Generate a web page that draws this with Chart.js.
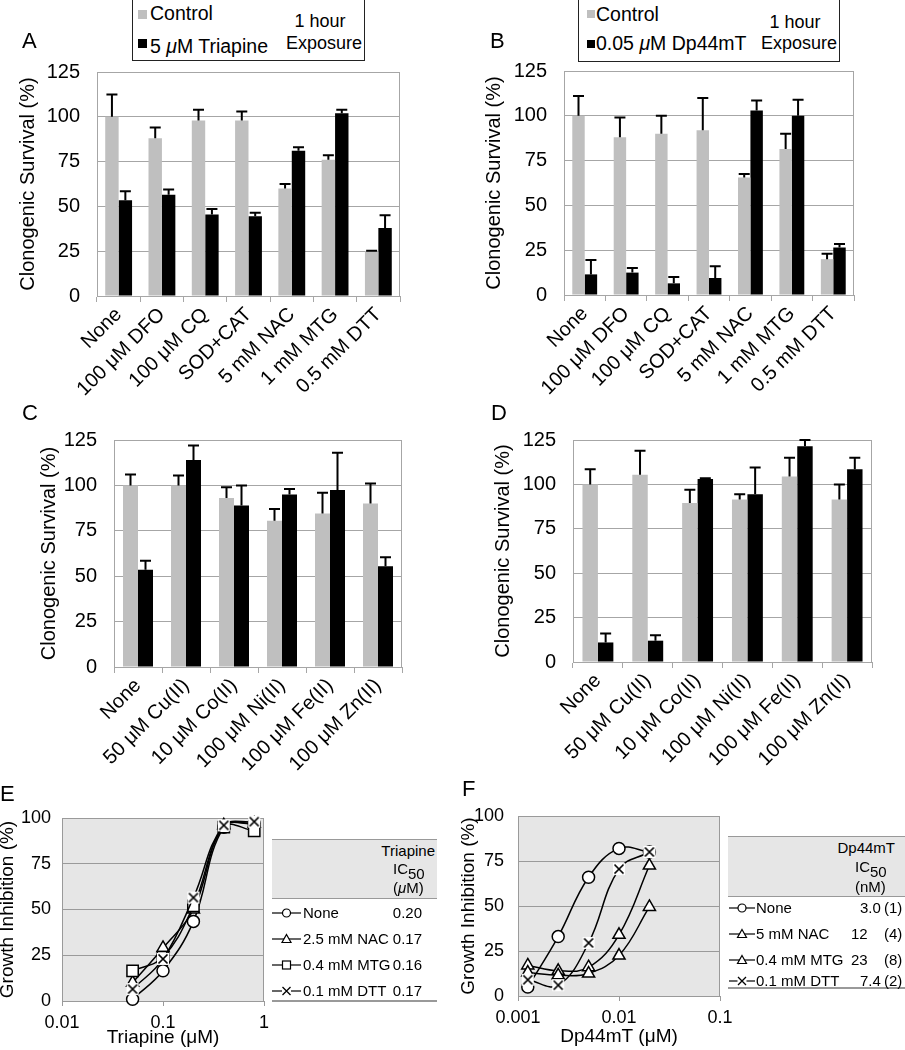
<!DOCTYPE html>
<html>
<head>
<meta charset="utf-8">
<script src="https://cdn.jsdelivr.net/npm/chart.js@4.4.1/dist/chart.umd.min.js"></script>
<style>
html,body{margin:0;padding:0;background:#fff;}
#fig{position:relative;width:905px;height:1050px;overflow:hidden;font-family:"Liberation Sans",Arial,Helvetica,sans-serif;color:#000;}
#fig canvas{position:absolute;}
.t{position:absolute;white-space:nowrap;line-height:1;}
.box{position:absolute;box-sizing:border-box;}
sub{font-size:1em;vertical-align:-5px;line-height:0;}
</style>
</head>
<body>
<div id="fig"></div>
<script>
// ---------------- DATA ----------------
const catsAB = ['None', '100 μM DFO', '100 μM CQ', 'SOD+CAT', '5 mM NAC', '1 mM MTG', '0.5 mM DTT'];
const catsCD = ['None', '50 μM Cu(II)', '10 μM Co(II)', '100 μM Ni(II)', '100 μM Fe(II)', '100 μM Zn(II)'];
const yTicksBar = [0, 25, 50, 75, 100, 125];

const A_control = [100, 88, 98, 98, 60, 76, 25];
const A_controlErr = [12.5, 6, 6, 5, 2.5, 2.5, 0.3];
const A_triapine = [53.5, 56.5, 45.5, 44.5, 81, 102, 38];
const A_triapineErr = [5, 3, 3, 2, 2, 2, 7];

const B_control = [100, 88, 90, 92, 65.5, 81.5, 20];
const B_controlErr = [11, 11, 10, 18, 2, 8.5, 3];
const B_dp44mt = [11.5, 12.5, 6.5, 9.5, 103, 100, 26.5];
const B_dp44mtErr = [8, 2.5, 3.5, 6.5, 5.5, 9, 2];

const C_control = [100, 100, 93, 80.5, 84.5, 90];
const C_controlErr = [6, 5.5, 6, 6.5, 11.5, 11];
const C_triapine = [53.5, 114, 89, 95, 97.5, 55.5];
const C_triapineErr = [5, 8, 11, 3, 20.5, 5];

const D_control = [100, 105.5, 89.5, 91.5, 104.5, 91.5];
const D_controlErr = [8.5, 13.5, 7.5, 3, 10.5, 8.5];
const D_dp44mt = [11, 12, 103, 94.5, 121.5, 108.5];
const D_dp44mtErr = [5, 3, 0.5, 15, 3.5, 6.5];

const E_conc = [0.05, 0.1, 0.2, 0.4, 0.8];
const E_none = [1, 16.5, 43.5, 95, 97];
const E_nac = [10, 29, 50, 96, 97];
const E_mtg = [16.5, 24, 52, 95, 93];
const E_dtt = [6.5, 23, 56.5, 96, 98];
const E_xTicks = [0.01, 0.1, 1];

const F_conc = [0.00125, 0.0025, 0.005, 0.01, 0.02];
const F_none = [5, 33, 66, 82, 80];
const F_nac = [17, 14, 16, 34, 72.5];
const F_mtg = [13, 11.5, 12.5, 22.5, 49.5];
const F_dtt = [9, 6, 29.5, 70.5, 80];
const F_xTicks = [0.001, 0.01, 0.1];
const yTicksGI = [0, 25, 50, 75, 100];

const E_tableNames = ['None', '2.5 mM NAC', '0.4 mM MTG', '0.1 mM DTT'];
const E_tableIC50 = ['0.20', '0.17', '0.16', '0.17'];
const F_tableNames = ['None', '5 mM NAC', '0.4 mM MTG', '0.1 mM DTT'];
const F_tableIC50 = ['3.0', '12', '23', '7.4'];
const F_tableN = ['(1)', '(4)', '(8)', '(2)'];
const markerKinds = ['circle', 'triangle', 'rect', 'x'];
const markerKindsF = ['circle', 'triangle', 'triangle', 'x'];

// ---------------- STYLE ----------------
const FONT = '"Liberation Sans", Arial, Helvetica, sans-serif';
Chart.defaults.font.family = FONT;
Chart.defaults.color = '#000';
const GRAY = '#bfbfbf';
const GRID = '#a6a6a6';
const GRID2 = '#9a9a9a';
const PLOTBG = '#e6e6e6';
const fig = document.getElementById('fig');

function mkCanvas(l, t, w, h) {
  const c = document.createElement('canvas');
  c.width = w; c.height = h;
  c.style.left = l + 'px'; c.style.top = t + 'px';
  c.style.width = w + 'px'; c.style.height = h + 'px';
  fig.appendChild(c);
  return c;
}

const errorBars = {
  id: 'errorBars',
  afterDatasetsDraw(chart) {
    const ctx = chart.ctx, ys = chart.scales.y;
    ctx.save();
    ctx.strokeStyle = '#000'; ctx.lineWidth = 2;
    chart.data.datasets.forEach((ds, i) => {
      const meta = chart.getDatasetMeta(i);
      meta.data.forEach((bar, j) => {
        const v = ds.data[j], e = ds.errors[j];
        const x = bar.x, yb = ys.getPixelForValue(v), yt = ys.getPixelForValue(v + e);
        ctx.beginPath();
        ctx.moveTo(x, yb); ctx.lineTo(x, yt);
        ctx.moveTo(x - 5.5, yt); ctx.lineTo(x + 5.5, yt);
        ctx.stroke();
      });
    });
    ctx.restore();
  }
};

const frame = {
  id: 'frame',
  beforeDraw(chart, args, opts) {
    const a = chart.chartArea, ctx = chart.ctx;
    if (opts.bg) {
      ctx.save(); ctx.fillStyle = opts.bg;
      ctx.fillRect(a.left, a.top, a.right - a.left, a.bottom - a.top);
      ctx.restore();
    }
  },
  beforeDatasetsDraw(chart, args, opts) {
    const a = chart.chartArea, ctx = chart.ctx;
    ctx.save(); ctx.strokeStyle = opts.color; ctx.lineWidth = 1;
    ctx.beginPath(); ctx.moveTo(a.right - 0.5, a.top); ctx.lineTo(a.right - 0.5, a.bottom); ctx.stroke();
    ctx.restore();
  }
};

function barPanel(p) {
  const yW = p.x0 - p.cl;
  const ct = p.y0 - p.padTop;
  const w = p.x1 + p.padRight - p.cl, h = p.y1 + p.xH - ct;
  const c = mkCanvas(p.cl, ct, w, h);
  new Chart(c, {
    type: 'bar',
    data: {
      labels: p.cats,
      datasets: [
        {data: p.s1, errors: p.e1, backgroundColor: GRAY, borderWidth: 0, categoryPercentage: p.catPct, barPercentage: 1},
        {data: p.s2, errors: p.e2, backgroundColor: '#000', borderWidth: 0, categoryPercentage: p.catPct, barPercentage: 1}
      ]
    },
    options: {
      responsive: false, animation: false, devicePixelRatio: 1,
      layout: {padding: {left: 0, top: p.padTop, right: p.padRight, bottom: 0}},
      plugins: {legend: {display: false}, tooltip: {enabled: false}, frame: {color: GRID}},
      scales: {
        x: {
          grid: {offset: true, drawOnChartArea: false, drawTicks: true, tickLength: 6, color: GRID},
          border: {color: GRID},
          ticks: {font: {size: 20}, maxRotation: 45, minRotation: 45, autoSkip: false, padding: 1, color: '#000'},
          afterFit: s => { s.height = p.xH; }
        },
        y: {
          min: 0, max: 125,
          afterBuildTicks: s => { s.ticks = yTicksBar.map(v => ({value: v})); },
          grid: {color: GRID, drawTicks: false},
          border: {color: GRID},
          ticks: {font: {size: 20}, padding: 17, color: '#000'},
          title: {display: true, text: 'Clonogenic Survival (%)', font: {size: 20}, padding: {top: p.titlePad, bottom: 0}, color: '#000'},
          afterFit: s => { s.width = yW; }
        }
      }
    },
    plugins: [errorBars, frame]
  });
}

function xMarker(size) {
  const c = document.createElement('canvas'); c.width = c.height = size;
  const g = c.getContext('2d');
  g.fillStyle = '#fff'; g.fillRect(1, 1, size - 2, size - 2);
  g.strokeStyle = '#000'; g.lineWidth = 1.7;
  const q = 2.5;
  g.beginPath(); g.moveTo(q, q); g.lineTo(size - q, size - q); g.moveTo(size - q, q); g.lineTo(q, size - q); g.stroke();
  return c;
}

function pointSpec(kind) {
  if (kind === 'circle') return {pointStyle: 'circle', pointRadius: 6};
  if (kind === 'triangle') return {pointStyle: 'triangle', pointRadius: 7};
  if (kind === 'rect') return {pointStyle: 'rect', pointRadius: 8};
  return {pointStyle: xMarker(14), pointRadius: 7};
}

function curvePanel(p) {
  const yW = p.x0 - p.cl;
  const ct = p.y0 - p.padTop;
  const w = p.x1 + p.padRight - p.cl, h = p.y1 + p.xH - ct;
  const c = mkCanvas(p.cl, ct, w, h);
  const datasets = p.series.map((s, i) => Object.assign({
    data: p.xs.map((x, j) => ({x: x, y: s[j]})),
    borderColor: '#000', borderWidth: 1.5, tension: 0.4, fill: false,
    pointBackgroundColor: '#fff', pointBorderColor: '#000', pointBorderWidth: 1.5,
    order: p.series.length - 1 - i, clip: 8
  }, pointSpec(p.kinds[i])));
  new Chart(c, {
    type: 'line',
    data: {datasets},
    options: {
      responsive: false, animation: false, devicePixelRatio: 1,
      layout: {padding: {left: 0, top: p.padTop, right: p.padRight, bottom: 0}},
      plugins: {legend: {display: false}, tooltip: {enabled: false}, frame: {color: GRID2, bg: PLOTBG}},
      scales: {
        x: {
          type: 'logarithmic', min: p.xt[0], max: p.xt[p.xt.length - 1],
          afterBuildTicks: s => { s.ticks = p.xt.map(v => ({value: v})); },
          ticks: {callback: v => String(v), font: {size: 18}, maxRotation: 0, autoSkip: false, padding: 6, color: '#000'},
          grid: {drawOnChartArea: false, drawTicks: true, tickLength: 5, color: GRID2},
          border: {color: GRID2},
          title: {display: true, text: p.xTitle, font: {size: 19}, padding: {top: 0, bottom: p.xTitlePad}, color: '#000'},
          afterFit: s => { s.height = p.xH; }
        },
        y: {
          min: 0, max: 100,
          afterBuildTicks: s => { s.ticks = yTicksGI.map(v => ({value: v})); },
          grid: {color: GRID2, drawTicks: false},
          border: {color: GRID2},
          ticks: {font: {size: 18}, padding: p.yTickPad, color: '#000'},
          title: {display: true, text: 'Growth Inhibition (%)', font: {size: 19}, padding: {top: p.titlePad, bottom: 0}, color: '#000'},
          afterFit: s => { s.width = yW; }
        }
      }
    },
    plugins: [frame]
  });
}

// ---------------- PANELS ----------------
barPanel({cl: 0, x0: 97, x1: 400, y0: 72, y1: 296, padTop: 32, padRight: 14, xH: 110, titlePad: 16,
  cats: catsAB, s1: A_control, e1: A_controlErr, s2: A_triapine, e2: A_triapineErr, catPct: 0.62});
barPanel({cl: 455, x0: 564, x1: 854, y0: 71, y1: 295, padTop: 32, padRight: 14, xH: 110, titlePad: 27,
  cats: catsAB, s1: B_control, e1: B_controlErr, s2: B_dp44mt, e2: B_dp44mtErr, catPct: 0.6});
barPanel({cl: 0, x0: 114, x1: 402, y0: 440, y1: 667, padTop: 32, padRight: 14, xH: 125, titlePad: 37,
  cats: catsCD, s1: C_control, e1: C_controlErr, s2: C_triapine, e2: C_triapineErr, catPct: 0.625});
barPanel({cl: 455, x0: 573, x1: 872, y0: 440, y1: 662, padTop: 32, padRight: 14, xH: 130, titlePad: 36,
  cats: catsCD, s1: D_control, e1: D_controlErr, s2: D_dp44mt, e2: D_dp44mtErr, catPct: 0.62});

curvePanel({cl: -4, x0: 62, x1: 264, y0: 818, y1: 1001, padTop: 32, padRight: 24, xH: 49, titlePad: 0.6,
  xTitle: 'Triapine (μM)', xTitlePad: 0.6, yTickPad: 11, xt: E_xTicks, xs: E_conc,
  series: [E_none, E_nac, E_mtg, E_dtt], kinds: markerKinds});
curvePanel({cl: 455, x0: 518, x1: 720, y0: 816, y1: 996, padTop: 32, padRight: 24, xH: 54, titlePad: 2,
  xTitle: 'Dp44mT (μM)', xTitlePad: 1.6, yTickPad: 14, xt: F_xTicks, xs: F_conc,
  series: [F_none, F_nac, F_mtg, F_dtt], kinds: markerKindsF});

// ---------------- TEXT / LEGENDS ----------------
function txt(html, o) {
  const d = document.createElement('div');
  d.className = 't';
  d.style.fontSize = o.size + 'px';
  d.style.top = (o.cy - 0.52 * o.size) + 'px';
  if (o.align === 'right') d.style.right = (905 - o.x) + 'px';
  else if (o.align === 'center') { d.style.left = o.x + 'px'; d.style.transform = 'translateX(-50%)'; }
  else d.style.left = o.x + 'px';
  d.innerHTML = html;
  fig.appendChild(d);
  return d;
}
function box(l, t, w, h, css) {
  const d = document.createElement('div');
  d.className = 'box';
  d.style.left = l + 'px'; d.style.top = t + 'px'; d.style.width = w + 'px'; d.style.height = h + 'px';
  d.style.cssText += css;
  fig.appendChild(d);
  return d;
}

// panel letters
[['A', 22, 41], ['B', 490, 41], ['C', 22, 413.5], ['D', 491, 413.5], ['E', 0, 794], ['F', 462, 789]]
  .forEach(([s, x, cy]) => txt(s, {x, cy, size: 22}));

// legend A
box(132, -1, 233, 62, 'border:1px solid #222;background:#fff;');
box(138, 10, 9, 9, 'background:' + GRAY + ';');
box(138, 39, 9, 9, 'background:#000;');
txt('Control', {x: 150, cy: 14, size: 19.5});
txt('5 <i>μ</i>M Triapine', {x: 150, cy: 47, size: 19.5});
txt('1 hour', {x: 320, cy: 21, size: 18, align: 'center'});
txt('Exposure', {x: 324, cy: 43, size: 18, align: 'center'});

// legend B
box(578, -1, 262, 63, 'border:1px solid #222;background:#fff;');
box(587, 10, 8, 8, 'background:' + GRAY + ';');
box(587, 40, 8, 8, 'background:#000;');
txt('Control', {x: 596, cy: 15, size: 19.5});
txt('0.05 <i>μ</i>M Dp44mT', {x: 596, cy: 44, size: 19.5});
txt('1 hour', {x: 795, cy: 22, size: 18, align: 'center'});
txt('Exposure', {x: 799, cy: 43, size: 18, align: 'center'});

function markerSvg(kind, w) {
  const h = 12, cx = w / 2, cy = 6;
  let m = '';
  if (kind === 'circle') m = `<circle cx="${cx}" cy="${cy}" r="4" fill="#fff" stroke="#000" stroke-width="1.2"/>`;
  else if (kind === 'triangle') m = `<polygon points="${cx},${cy - 4.5} ${cx + 4.5},${cy + 3.5} ${cx - 4.5},${cy + 3.5}" fill="#fff" stroke="#000" stroke-width="1.2"/>`;
  else if (kind === 'rect') m = `<rect x="${cx - 4}" y="${cy - 4}" width="8" height="8" fill="#fff" stroke="#000" stroke-width="1.2"/>`;
  else m = `<rect x="${cx - 4.5}" y="${cy - 4.5}" width="9" height="9" fill="#fff"/><path d="M${cx - 4} ${cy - 4}L${cx + 4} ${cy + 4}M${cx + 4} ${cy - 4}L${cx - 4} ${cy + 4}" stroke="#000" stroke-width="1.3"/>`;
  return `<svg width="${w}" height="${h}" xmlns="http://www.w3.org/2000/svg"><line x1="0" y1="${cy}" x2="${w}" y2="${cy}" stroke="#000" stroke-width="1.2"/>${m}</svg>`;
}

// table E
box(272, 839, 165, 60, 'background:' + PLOTBG + ';border-top:1.5px solid #999;border-bottom:1.5px solid #999;');
box(272, 1000, 165, 1.5, 'background:#999;');
txt('Triapine', {x: 435, cy: 851, size: 15, align: 'right'});
txt('IC<sub>50</sub>', {x: 393, cy: 869, size: 15});
txt('(<i>μ</i>M)', {x: 393, cy: 888, size: 15});
const rowsE = [913, 939, 965, 991];
rowsE.forEach((cy, i) => {
  const d = txt(markerSvg(markerKinds[i], 29), {x: 272, cy: cy, size: 12});
  d.style.top = (cy - 6) + 'px';
  txt(E_tableNames[i], {x: 303, cy, size: 15});
  txt(E_tableIC50[i], {x: 422, cy, size: 15, align: 'right'});
});

// table F
box(728, 836, 177, 61, 'background:' + PLOTBG + ';border-top:1.5px solid #999;border-bottom:1.5px solid #999;');
box(728, 987, 177, 1.5, 'background:#999;');
txt('Dp44mT', {x: 895, cy: 848, size: 15, align: 'right'});
txt('IC<sub>50</sub>', {x: 855, cy: 867, size: 15});
txt('(nM)', {x: 855, cy: 887, size: 15});
const rowsF = [908, 934, 959.5, 981];
const icLeftF = [860, 851, 851, 860];
rowsF.forEach((cy, i) => {
  const d = txt(markerSvg(markerKindsF[i], 26), {x: 729, cy: cy, size: 12});
  d.style.top = (cy - 6) + 'px';
  txt(F_tableNames[i], {x: 756, cy, size: 15});
  txt(F_tableIC50[i], {x: icLeftF[i], cy, size: 15});
  txt(F_tableN[i], {x: 884, cy, size: 15});
});
</script>
</body>
</html>
